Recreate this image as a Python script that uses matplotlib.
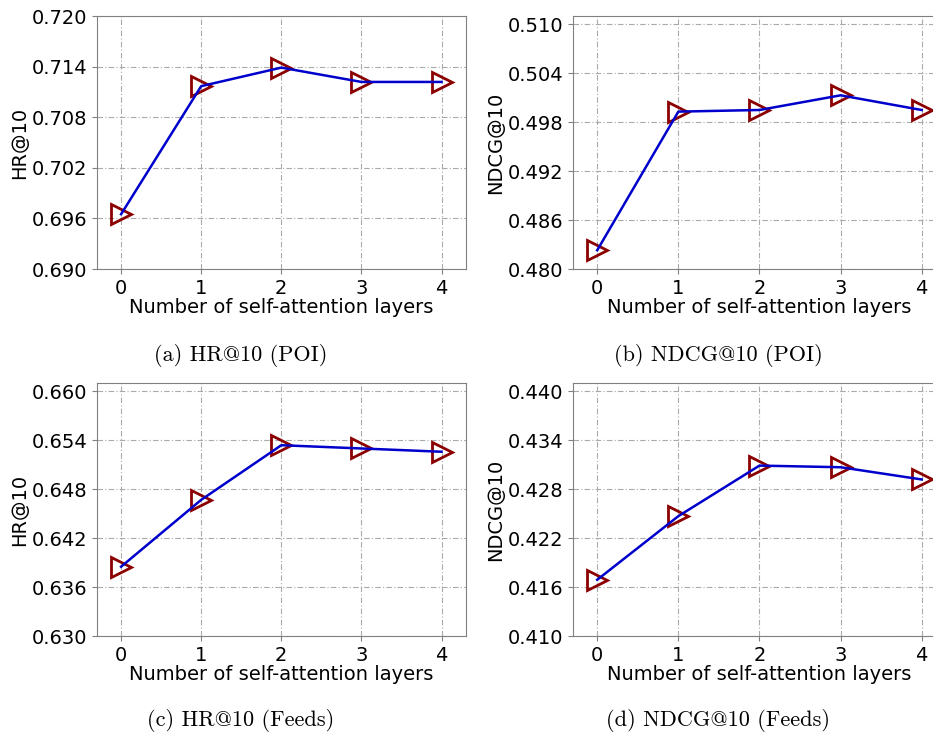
import matplotlib
matplotlib.use('Agg')
import matplotlib.pyplot as plt
import numpy as np

# number of self-attention layers
layers = [0, 1, 2, 3, 4]

# results
hr_poi = [0.6965, 0.7117, 0.7139, 0.7122, 0.7122]
ndcg_poi = [0.4823, 0.4993, 0.4995, 0.5013, 0.4995]
hr_feeds = [0.6385, 0.6467, 0.6534, 0.6530, 0.6526]
ndcg_feeds = [0.4169, 0.4247, 0.4309, 0.4307, 0.4292]

ylabels = ['HR@10', 'NDCG@10', 'HR@10', 'NDCG@10']
captions = ['(a) HR@10 (POI)', '(b) NDCG@10 (POI)', '(c) HR@10 (Feeds)', '(d) NDCG@10 (Feeds)']
yticks = [[0.690, 0.696, 0.702, 0.708, 0.714, 0.720],
          [0.480, 0.486, 0.492, 0.498, 0.504, 0.510],
          [0.630, 0.636, 0.642, 0.648, 0.654, 0.660],
          [0.410, 0.416, 0.422, 0.428, 0.434, 0.440]]
ylims = [(0.690, 0.720), (0.480, 0.511), (0.630, 0.661), (0.410, 0.441)]
series = [hr_poi, ndcg_poi, hr_feeds, ndcg_feeds]

fig = plt.figure(figsize=(9.33, 7.37), dpi=100)

# axes boxes [left, bottom, width, height] and caption positions
boxes = [[0.104, 0.635, 0.395, 0.343],
         [0.614, 0.635, 0.400, 0.343],
         [0.104, 0.137, 0.395, 0.343],
         [0.614, 0.137, 0.400, 0.343]]
cap_pos = [(0.258, 0.518), (0.770, 0.518), (0.258, 0.022), (0.770, 0.022)]

for i in range(4):
    ax = fig.add_axes(boxes[i])
    ax.plot(layers, series[i], '-', color='#0000cc', lw=1.8, zorder=3)
    ax.plot(layers, series[i], linestyle='none', marker='>', markersize=15,
            markerfacecolor='none', markeredgecolor='#8b0000', markeredgewidth=2, zorder=2)
    ax.set_xlim(-0.3, 4.3)
    ax.set_ylim(*ylims[i])
    ax.set_xticks(layers)
    ax.set_yticks(yticks[i])
    ax.set_yticklabels(['%.3f' % v for v in yticks[i]])
    ax.tick_params(labelsize=14, color='gray')
    ax.grid(True, linestyle=(0, (5, 2, 1, 2)), color='#aaaaaa', lw=0.8)
    for s in ax.spines.values():
        s.set_color('gray')
    ax.set_xlabel('Number of self-attention layers', fontsize=14, labelpad=0)
    ax.set_ylabel(ylabels[i], fontsize=14, labelpad=2)
    fig.text(cap_pos[i][0], cap_pos[i][1], captions[i], ha='center', va='center',
             fontsize=16, family=['cmr10', 'DejaVu Serif'])

plt.savefig('out.png', dpi=100)
